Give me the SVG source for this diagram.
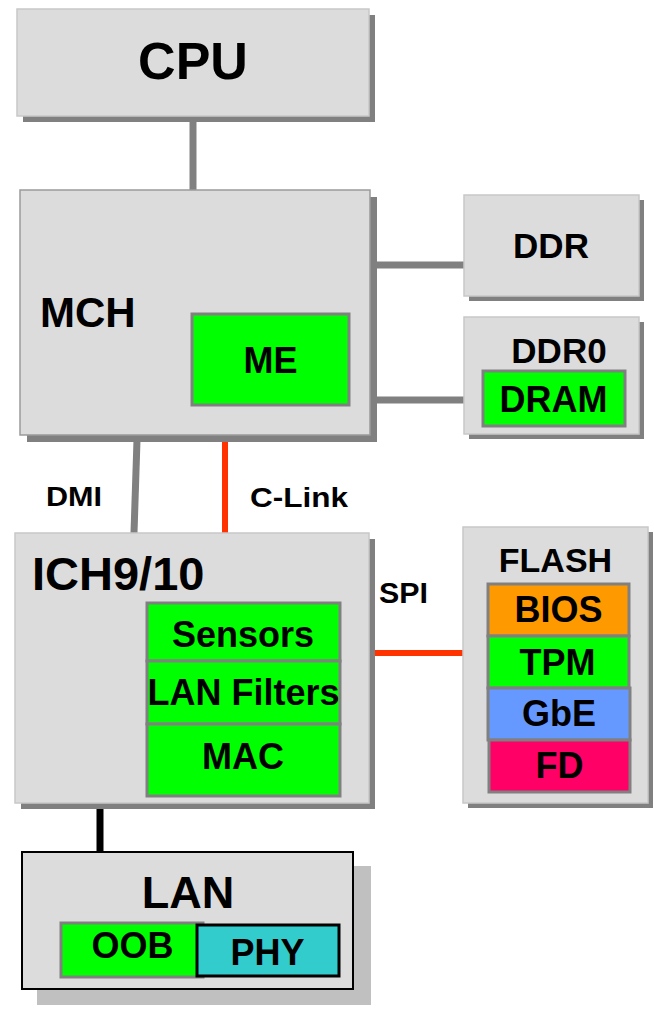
<svg xmlns="http://www.w3.org/2000/svg" width="654" height="1009" viewBox="0 0 654 1009">
<style>
text{font-family:"Liberation Sans",Arial,Helvetica,sans-serif;font-weight:bold;fill:#000}
.box{fill:#dcdcdc;stroke:#c8c8c8;stroke-width:1.5}
.mbox{fill:#dcdcdc;stroke:#9a9a9a;stroke-width:1.5}
.sh{fill:#808080}
.in{stroke:#808080;stroke-width:3}
.g{fill:#00ff00}
.c{text-anchor:middle}
.bus{stroke:#808080;stroke-width:7;fill:none}
.red{stroke:#ff3300;stroke-width:6;fill:none}
</style>
<g id="connectors">
<line class="bus" x1="193" y1="116" x2="193" y2="190"/>
<line class="bus" x1="372" y1="265" x2="464" y2="265"/>
<line class="bus" x1="372" y1="400" x2="464" y2="400"/>
<line class="bus" x1="137" y1="440" x2="134" y2="533"/>
<line class="red" x1="225" y1="440" x2="225" y2="533"/>
<line class="red" x1="372" y1="653" x2="463" y2="653"/>
<line stroke="#000" stroke-width="7" x1="100" y1="806" x2="100" y2="852"/>
<text x="46" y="506" font-size="28" textLength="56" lengthAdjust="spacingAndGlyphs">DMI</text>
<text x="250" y="507" font-size="28" textLength="98" lengthAdjust="spacingAndGlyphs">C-Link</text>
<text x="379" y="603" font-size="29" textLength="49" lengthAdjust="spacingAndGlyphs">SPI</text>
</g>
<g id="cpu">
<rect class="sh" x="23" y="15" width="352" height="107"/>
<rect class="box" x="17" y="9" width="352" height="107"/>
<text class="c" x="193" y="79" font-size="52">CPU</text>
</g>
<g id="mch">
<rect class="sh" x="27" y="197" width="350" height="245"/>
<rect class="mbox" x="20" y="190" width="350" height="245"/>
<text x="40" y="327" font-size="42">MCH</text>
</g>
<g id="me">
<rect class="g in" x="192" y="314" width="157" height="91"/>
<text class="c" x="270.5" y="373" font-size="36">ME</text>
</g>
<g id="ddr">
<rect class="sh" x="469" y="200" width="175" height="101"/>
<rect class="box" x="464" y="195" width="175" height="101"/>
<text class="c" x="551" y="258" font-size="35">DDR</text>
</g>
<g id="ddr0">
<rect class="sh" x="469" y="322" width="175" height="117"/>
<rect class="box" x="464" y="317" width="175" height="117"/>
<text class="c" x="559" y="363" font-size="35">DDR0</text>
</g>
<g id="dram">
<rect class="g in" x="483" y="371" width="142" height="55"/>
<text class="c" x="553.5" y="412" font-size="36">DRAM</text>
</g>
<g id="ich">
<rect class="sh" x="21" y="539" width="354" height="270"/>
<rect class="box" x="15" y="533" width="354" height="270"/>
<text x="32" y="590" font-size="47">ICH9/10</text>
</g>
<g id="sensors">
<rect class="g in" x="147" y="603" width="193" height="58"/>
<text class="c" x="243" y="647" font-size="36">Sensors</text>
</g>
<g id="lanfilters">
<rect class="g in" x="147" y="661" width="193" height="63"/>
<text class="c" x="243.5" y="705" font-size="36">LAN Filters</text>
</g>
<g id="mac">
<rect class="g in" x="147" y="724" width="193" height="72"/>
<text class="c" x="243" y="769" font-size="36">MAC</text>
</g>
<g id="flash">
<rect class="sh" x="468" y="532" width="185" height="276"/>
<rect class="box" x="463" y="527" width="185" height="276"/>
<text class="c" x="555.5" y="572" font-size="34">FLASH</text>
</g>
<g id="bios">
<rect class="in" fill="#ff9900" x="488" y="584" width="141" height="52"/>
<text class="c" x="558.5" y="622" font-size="36">BIOS</text>
</g>
<g id="tpm">
<rect class="g in" x="488" y="636" width="141" height="52"/>
<text class="c" x="557.5" y="675" font-size="36">TPM</text>
</g>
<g id="gbe">
<rect class="in" fill="#6699ff" x="488" y="688" width="142" height="52"/>
<text class="c" x="559" y="726" font-size="36">GbE</text>
</g>
<g id="fd">
<rect class="in" fill="#ff0066" x="489" y="740" width="141" height="52"/>
<text class="c" x="559.5" y="778" font-size="36">FD</text>
</g>
<g id="lan">
<rect fill="#c0c0c0" x="37" y="866" width="334" height="139"/>
<rect fill="#dcdcdc" stroke="#000" stroke-width="2" x="22" y="852" width="331" height="137"/>
<text class="c" x="188" y="908" font-size="45">LAN</text>
</g>
<g id="oob">
<rect class="g in" x="61" y="923" width="142" height="54"/>
<text class="c" x="132.5" y="958" font-size="36">OOB</text>
</g>
<g id="phy">
<rect fill="#33cccc" stroke="#000" stroke-width="3" x="197" y="925" width="142" height="51"/>
<text class="c" x="267.5" y="965" font-size="36">PHY</text>
</g>
</svg>
